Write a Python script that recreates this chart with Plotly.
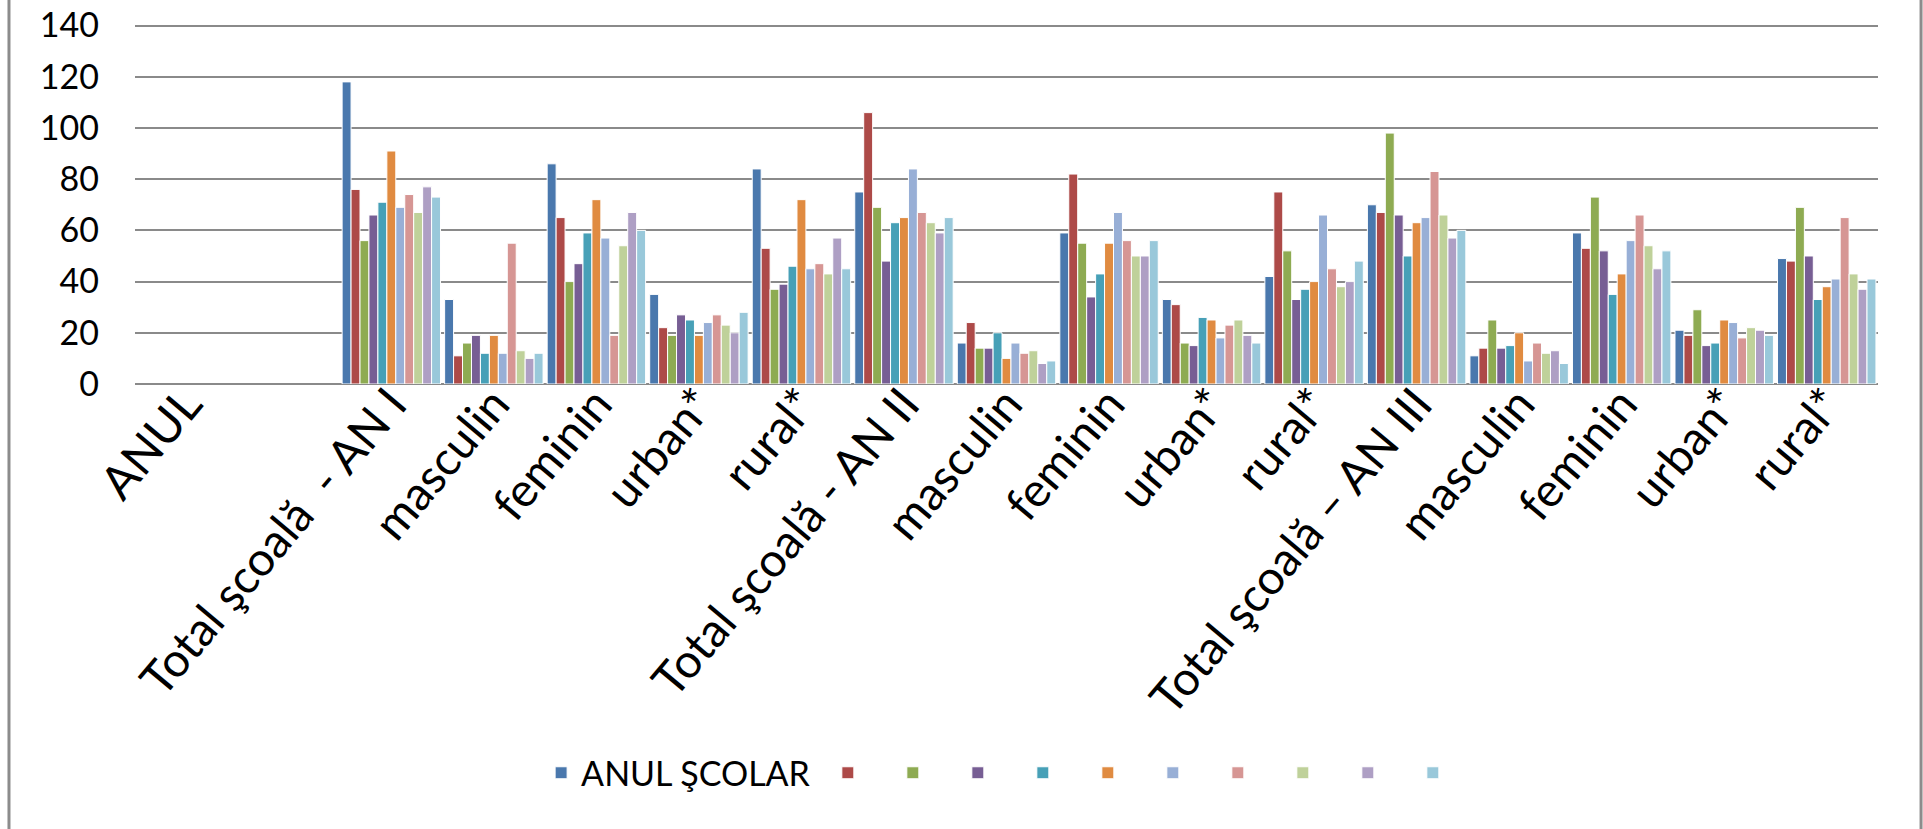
import plotly.graph_objects as go

# Category labels (x axis); the second slot has no label in the original
categories = [
    "ANUL", "", "Total şcoală  - AN I", "masculin", "feminin", "urban*", "rural*",
    "Total şcoală - AN II", "masculin", "feminin", "urban*", "rural*",
    "Total şcoală – AN III", "masculin", "feminin", "urban*", "rural*",
]

# Series values (first two categories are empty)
s1 = [None, None, 118, 33, 86, 35, 84, 75, 16, 59, 33, 42, 70, 11, 59, 21, 49]
s2 = [None, None, 76, 11, 65, 22, 53, 106, 24, 82, 31, 75, 67, 14, 53, 19, 48]
s3 = [None, None, 56, 16, 40, 19, 37, 69, 14, 55, 16, 52, 98, 25, 73, 29, 69]
s4 = [None, None, 66, 19, 47, 27, 39, 48, 14, 34, 15, 33, 66, 14, 52, 15, 50]
s5 = [None, None, 71, 12, 59, 25, 46, 63, 20, 43, 26, 37, 50, 15, 35, 16, 33]
s6 = [None, None, 91, 19, 72, 19, 72, 65, 10, 55, 25, 40, 63, 20, 43, 25, 38]
s7 = [None, None, 69, 12, 57, 24, 45, 84, 16, 67, 18, 66, 65, 9, 56, 24, 41]
s8 = [None, None, 74, 55, 19, 27, 47, 67, 12, 56, 23, 45, 83, 16, 66, 18, 65]
s9 = [None, None, 67, 13, 54, 23, 43, 63, 13, 50, 25, 38, 66, 12, 54, 22, 43]
s10 = [None, None, 77, 10, 67, 20, 57, 59, 8, 50, 19, 40, 57, 13, 45, 21, 37]
s11 = [None, None, 73, 12, 60, 28, 45, 65, 9, 56, 16, 48, 60, 8, 52, 19, 41]

series = [s1, s2, s3, s4, s5, s6, s7, s8, s9, s10, s11]
names = ["ANUL ŞCOLAR"] + [""] * 10

colors = ['#4A78AD', '#AD4A48', '#8EAB52', '#775E94', '#47A0B7', '#E08B41',
          '#98AFD6', '#D69694', '#BFD19A', '#AE9FC4', '#99C8DA']

FONT = "Lato, 'Liberation Sans', sans-serif"
x = list(range(len(categories)))

fig = go.Figure()
for i, vals in enumerate(series):
    fig.add_trace(go.Bar(
        x=x, y=vals, name=names[i], showlegend=True,
        marker=dict(color=colors[i], line=dict(color='white', width=1)),
        legend='legend' if i == 0 else 'legend2',
    ))

# Chart frame (left / right edges visible)
for xp in [-0.0723, 1.0247]:
    fig.add_shape(type='line', xref='paper', yref='paper',
                  x0=xp, x1=xp, y0=-2, y1=2,
                  line=dict(color='#8C8C8C', width=3))

fig.update_layout(
    width=1923, height=829, showlegend=True,
    barmode='group', bargap=0.04, bargroupgap=0,
    plot_bgcolor='white', paper_bgcolor='white',
    margin=dict(l=135, r=45, t=23, b=445, autoexpand=False),
    font=dict(family=FONT, size=34, color='black'),
    xaxis=dict(
        tickvals=x, ticktext=categories, tickangle=-50,
        range=[-0.5, len(categories) - 0.5],
        tickfont=dict(size=47, family=FONT),
        showgrid=False, zeroline=False, showline=False,
        ticklabelstandoff=-18, automargin=False,
    ),
    yaxis=dict(
        range=[0, 141], tickvals=[0, 20, 40, 60, 80, 100, 120, 140],
        gridcolor='#8A8A8A', gridwidth=2,
        zeroline=True, zerolinecolor='#8A8A8A', zerolinewidth=2,
        tickfont=dict(size=34, family=FONT),
        ticklabelstandoff=35, automargin=False, ticklabeloverflow='allow',
    ),
    legend=dict(orientation='h', x=0.233, y=-1.078, xanchor='left', yanchor='middle',
                font=dict(size=34), bgcolor='rgba(0,0,0,0)'),
    legend2=dict(orientation='h', x=0.3975, y=-1.078, xanchor='left', yanchor='middle',
                 font=dict(size=34), bgcolor='rgba(0,0,0,0)',
                 entrywidth=20, entrywidthmode='pixels'),
)

# drop the default 8px page margin so the figure fills the window exactly
fig.write_html("out.html", config={'displayModeBar': False},
               post_script="document.body.style.margin='0';")
